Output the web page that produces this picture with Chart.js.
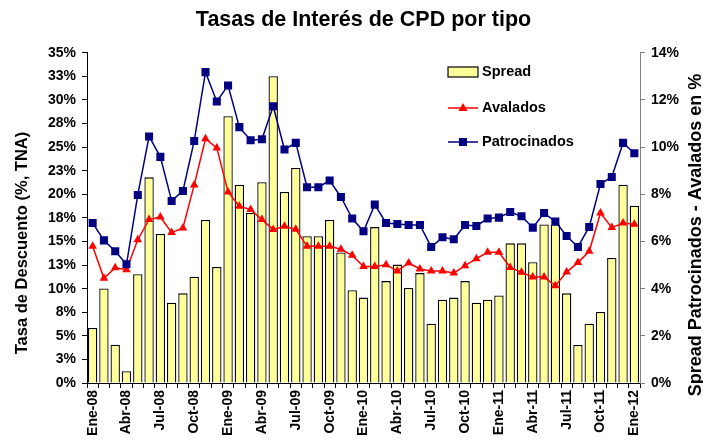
<!DOCTYPE html>
<html>
<head>
<meta charset="utf-8">
<script src="https://cdn.jsdelivr.net/npm/chart.js@4.4.1/dist/chart.umd.min.js"></script>
<style>
  body { margin: 0; background: #fff; }
  #wrap { width: 703px; height: 440px; }
</style>
</head>
<body>
<div id="wrap"><canvas id="cpd-chart" width="703" height="440"></canvas></div>
<script>
var months = [
  'Ene-08','Feb-08','Mar-08','Abr-08','May-08','Jun-08','Jul-08','Ago-08','Sep-08','Oct-08','Nov-08','Dic-08',
  'Ene-09','Feb-09','Mar-09','Abr-09','May-09','Jun-09','Jul-09','Ago-09','Sep-09','Oct-09','Nov-09','Dic-09',
  'Ene-10','Feb-10','Mar-10','Abr-10','May-10','Jun-10','Jul-10','Ago-10','Sep-10','Oct-10','Nov-10','Dic-10',
  'Ene-11','Feb-11','Mar-11','Abr-11','May-11','Jun-11','Jul-11','Ago-11','Sep-11','Oct-11','Nov-11','Dic-11',
  'Ene-12'
]

// spread, right axis (%)
var spread = [
  2.33, 4.01, 1.62, 0.50, 4.61, 8.72, 6.32, 3.40, 3.80, 4.51, 6.91, 4.92,
  11.31, 8.41, 7.21, 8.51, 13.01, 8.10, 9.12, 6.22, 6.22, 6.91, 5.53, 3.93,
  3.62, 6.61, 4.32, 5.02, 4.03, 4.66, 2.51, 3.53, 3.62, 4.32, 3.40, 3.53,
  3.71, 5.92, 5.92, 5.12, 6.72, 6.72, 3.80, 1.61, 2.51, 3.01, 5.30, 8.41,
  7.52
]

// tasas, left axis (% TNA)
var avalados = [
  14.49, 11.09, 12.22, 12.01, 15.19, 17.32, 17.60, 15.94, 16.43, 21.00, 25.88, 24.92,
  20.25, 18.73, 18.38, 17.32, 16.26, 16.61, 16.29, 14.49, 14.49, 14.49, 14.17, 13.53,
  12.35, 12.36, 12.54, 11.87, 12.72, 12.08, 11.87, 11.87, 11.65, 12.44, 13.18, 13.85,
  13.85, 12.25, 11.73, 11.23, 11.23, 10.31, 11.76, 12.76, 13.96, 18.02, 16.47, 16.96,
  16.82
]

var patrocinados = [
  16.96, 15.12, 13.96, 12.58, 19.93, 26.13, 23.97, 19.30, 20.36, 25.66, 32.95, 29.84,
  31.54, 27.12, 25.74, 25.84, 29.34, 24.75, 25.45, 20.75, 20.75, 21.46, 19.72, 17.43,
  16.08, 18.91, 16.96, 16.86, 16.75, 16.75, 14.42, 15.44, 15.23, 16.75, 16.65, 17.43,
  17.53, 18.13, 17.67, 16.47, 18.02, 17.11, 15.58, 14.42, 16.54, 21.10, 21.84, 25.45,
  24.36
]

var leftTicks = ['0%','3%','5%','8%','10%','13%','15%','18%','20%','23%','25%','28%','30%','33%','35%']
var rightTicks = ['0%','2%','4%','6%','8%','10%','12%','14%']

var FONT = "'Liberation Sans', Arial, sans-serif"

// legend inside the plot + axis titles, drawn like the excel one
var extras = {
  id: 'extras',
  afterDraw(chart) {
    var ctx = chart.ctx
    var area = chart.chartArea
    ctx.save()
    ctx.fillStyle = '#000'
    ctx.font = 'bold 16.5px ' + FONT
    ctx.textAlign = 'center'
    ctx.textBaseline = 'middle'
    ctx.translate(22, 243)
    ctx.rotate(-Math.PI / 2)
    ctx.fillText('Tasa de Descuento (%, TNA)', 0, 0)
    ctx.restore()

    ctx.save()
    ctx.fillStyle = '#000'
    ctx.font = 'bold 18px ' + FONT
    ctx.textAlign = 'center'
    ctx.textBaseline = 'middle'
    ctx.translate(696, 235)
    ctx.rotate(-Math.PI / 2)
    ctx.fillText('Spread Patrocinados - Avalados en %', 0, 0)
    ctx.restore()

    // legend
    var lx = 448, ly = [72, 108, 142]
    var order = [2, 0, 1]
    ctx.save()
    ctx.font = 'bold 14.5px ' + FONT
    ctx.textBaseline = 'middle'
    order.forEach(function (di, k) {
      var ds = chart.data.datasets[di]
      var y = ly[k]
      if (ds.type === 'bar') {
        ctx.fillStyle = ds.backgroundColor
        ctx.fillRect(lx, y - 5, 30, 10)
        ctx.strokeStyle = '#000'
        ctx.lineWidth = 1.2
        ctx.strokeRect(lx, y - 5, 30, 10)
      } else {
        ctx.strokeStyle = ds.borderColor
        ctx.lineWidth = ds.borderWidth
        ctx.beginPath()
        ctx.moveTo(lx, y)
        ctx.lineTo(lx + 30, y)
        ctx.stroke()
        ctx.fillStyle = ds.backgroundColor
        ctx.beginPath()
        if (ds.pointStyle === 'rect') {
          ctx.rect(lx + 15 - 4, y - 4, 8, 8)
        } else {
          ctx.moveTo(lx + 15, y - 5)
          ctx.lineTo(lx + 19.5, y + 3)
          ctx.lineTo(lx + 10.5, y + 3)
          ctx.closePath()
        }
        ctx.fill()
      }
      ctx.fillStyle = '#000'
      ctx.fillText(ds.label, lx + 34, y)
    })
    ctx.restore()
  }
}

var chart = new Chart(document.getElementById('cpd-chart'), {
  type: 'bar',
  data: {
    labels: months,
    datasets: [
      {
        label: 'Avalados',
        type: 'line',
        data: avalados,
        yAxisID: 'y',
        borderColor: '#FF0000',
        backgroundColor: '#FF0000',
        borderWidth: 1.5,
        pointStyle: 'triangle',
        pointRadius: 5,
        pointBorderWidth: 0,
        tension: 0,
        order: 2
      },
      {
        label: 'Patrocinados',
        type: 'line',
        data: patrocinados,
        yAxisID: 'y',
        borderColor: '#000080',
        backgroundColor: '#000080',
        borderWidth: 1.5,
        pointStyle: 'rect',
        pointRadius: 5.7,
        pointBorderWidth: 0,
        tension: 0,
        order: 1
      },
      {
        label: 'Spread',
        type: 'bar',
        data: spread,
        yAxisID: 'y1',
        backgroundColor: '#FFFF99',
        borderColor: '#000',
        borderWidth: 1.3,
        barPercentage: 0.83,
        categoryPercentage: 1,
        order: 3
      }
    ]
  },
  options: {
    responsive: false,
    animation: false,
    layout: { padding: 0 },
    scales: {
      x: {
        offset: true,
        grid: { display: true, drawOnChartArea: false, drawTicks: true, tickLength: 5, color: '#000', offset: true },
        border: { display: true, color: '#000', width: 1 },
        ticks: {
          autoSkip: false,
          minRotation: 90,
          maxRotation: 90,
          padding: 2,
          color: '#000',
          font: { family: FONT, size: 14, weight: 'bold' },
          callback: function (v, i) { return i % 3 === 0 ? months[i] : '' }
        },
        afterFit: function (scale) { scale.height = 57 }
      },
      y: {
        position: 'left',
        min: 0,
        max: 35,
        grid: { drawOnChartArea: false, drawTicks: true, tickLength: 5, color: '#000' },
        border: { display: true, color: '#000', width: 1 },
        ticks: {
          stepSize: 2.5,
          padding: 6,
          color: '#000',
          font: { family: FONT, size: 14, weight: 'bold' },
          callback: function (v, i) { return leftTicks[i] }
        },
        afterFit: function (scale) { scale.width = 87 }
      },
      y1: {
        position: 'right',
        min: 0,
        max: 14,
        grid: { drawOnChartArea: false, drawTicks: true, tickLength: 5, color: '#808080' },
        border: { display: true, color: '#808080', width: 1 },
        ticks: {
          stepSize: 2,
          padding: 6,
          color: '#000',
          font: { family: FONT, size: 14, weight: 'bold' },
          callback: function (v, i) { return rightTicks[i] }
        },
        afterFit: function (scale) { scale.width = 63 }
      }
    },
    plugins: {
      legend: { display: false },
      tooltip: { enabled: false },
      title: {
        display: true,
        fullSize: false,
        text: 'Tasas de Interés de CPD por tipo',
        color: '#000',
        font: { family: FONT, size: 21.5, weight: 'bold' },
        padding: { top: 7, bottom: 20 }
      }
    }
  },
  plugins: [extras]
})
</script>
</body>
</html>
